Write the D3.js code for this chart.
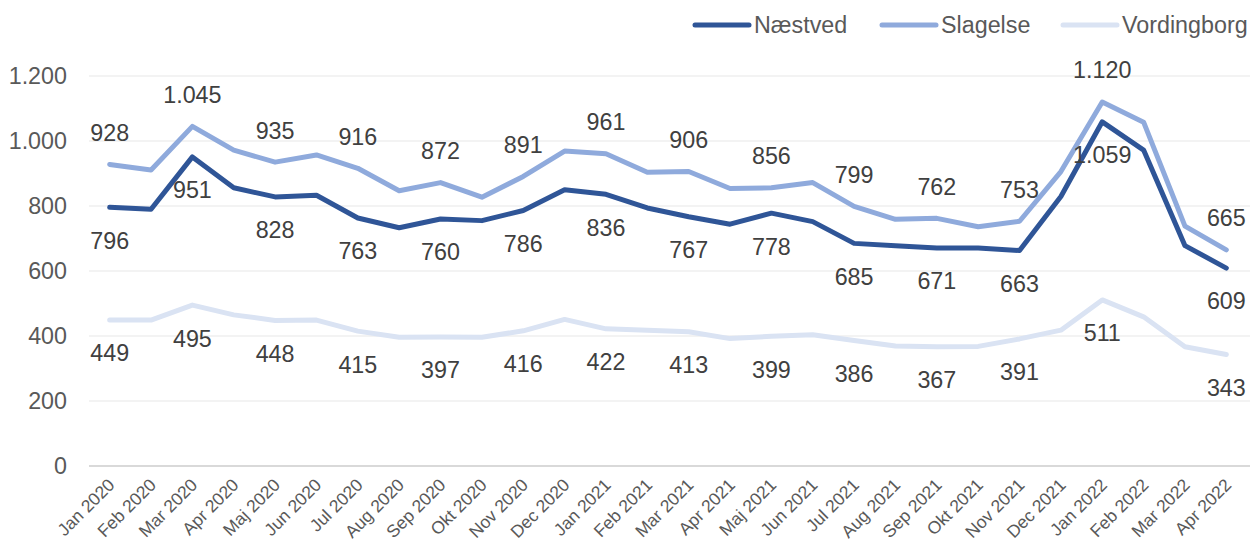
<!DOCTYPE html>
<html><head><meta charset="utf-8">
<script src="https://cdn.jsdelivr.net/npm/d3@7"></script>
<style>
html,body{margin:0;padding:0;background:#fff;}
text{font-family:"Liberation Sans",Arial,sans-serif;}
</style></head>
<body><svg id="chart" width="1253" height="544"></svg>
<script>
const categories = ["Jan 2020","Feb 2020","Mar 2020","Apr 2020","Maj 2020","Jun 2020","Jul 2020","Aug 2020","Sep 2020","Okt 2020","Nov 2020","Dec 2020",
  "Jan 2021","Feb 2021","Mar 2021","Apr 2021","Maj 2021","Jun 2021","Jul 2021","Aug 2021","Sep 2021","Okt 2021","Nov 2021","Dec 2021",
  "Jan 2022","Feb 2022","Mar 2022","Apr 2022"];
const naestved = [796,790,951,856,828,833,763,733,760,755,786,850,836,794,767,744,778,752,685,678,671,671,663,829,1059,972,678,609];
const slagelse = [928,911,1045,972,935,957,916,847,872,827,891,969,961,904,906,854,856,872,799,759,762,736,753,906,1120,1058,738,665];
const vordingborg = [449,449,495,465,448,449,415,396,397,396,416,451,422,418,413,392,399,404,386,369,367,368,391,418,511,459,367,343];
const labelIndices = [0,2,4,6,8,10,12,14,16,18,20,22,24,27];
const yTicks = [0,200,400,600,800,1000,1200];
const seriesNames = ["Næstved","Slagelse","Vordingborg"];

const series = [
  {name: seriesNames[0], values: naestved, color: "#2F5597", labelPos: "below"},
  {name: seriesNames[1], values: slagelse, color: "#8FAADC", labelPos: "above"},
  {name: seriesNames[2], values: vordingborg, color: "#DAE3F3", labelPos: "below"}
];

const loc = d3.formatLocale({decimal: ",", thousands: ".", grouping: [3], currency: ["", ""]});
const fmt = loc.format(",d");
const FONT = '"Liberation Sans",Arial,sans-serif';

const svg = d3.select("#chart");
const x = d3.scaleBand().domain(categories).range([89, 1247]).padding(0);
const y = d3.scaleLinear().domain([0, 1200]).range([466, 76]);
const cx = d => x(d) + x.bandwidth() / 2;

// gridlines
svg.append("g").selectAll("line").data(yTicks.filter(t => t > 0)).join("line")
  .attr("x1", 89).attr("x2", 1250)
  .attr("y1", d => y(d)).attr("y2", d => y(d))
  .attr("stroke", "#EFEFEF").attr("stroke-width", 1.5);

// y axis labels
const yAxis = d3.axisLeft(y).tickValues(yTicks).tickFormat(fmt).tickSize(0).tickPadding(22);
const gy = svg.append("g").attr("transform", "translate(89,0)").call(yAxis);
gy.select(".domain").remove();
gy.selectAll("text").attr("font-size", "23.3px").attr("fill", "#595959").style("font-family", FONT);

// x axis
const xAxis = d3.axisBottom(x).tickSize(0).tickPadding(0);
const gx = svg.append("g").attr("transform", "translate(0,466)").call(xAxis);
gx.select(".domain").attr("d", "M89,0H1250").attr("stroke", "#D9D9D9").attr("stroke-width", 2);
gx.selectAll(".tick text")
  .attr("font-size", "17.5px").attr("fill", "#595959")
  .style("font-family", FONT)
  .attr("text-anchor", "end")
  .attr("dy", "0")
  .attr("y", 0)
  .attr("transform", "translate(6,20) rotate(-45)");

// lines
const line = d3.line().x((d, i) => cx(categories[i])).y(d => y(d)).curve(d3.curveLinear);
const drawOrder = [2, 1, 0];
drawOrder.forEach(k => {
  const s = series[k];
  svg.append("path").datum(s.values)
    .attr("fill", "none").attr("stroke", s.color).attr("stroke-width", 5)
    .attr("stroke-linejoin", "round").attr("stroke-linecap", "round")
    .attr("d", line);
});

// data labels
series.forEach(s => {
  svg.append("g").selectAll("text").data(labelIndices).join("text")
    .attr("x", i => cx(categories[i]))
    .attr("y", i => y(s.values[i]) + (s.labelPos === "above" ? -32 : 33))
    .attr("dy", "0.36em")
    .attr("text-anchor", "middle")
    .attr("font-size", "23.3px").attr("fill", "#404040")
    .text(i => fmt(s.values[i]));
});

// legend
const legendX = [695, 882, 1063];
series.forEach((s, k) => {
  const g = svg.append("g").attr("transform", `translate(${legendX[k]},25)`);
  g.append("line").attr("x1", 0).attr("x2", 54).attr("y1", 0).attr("y2", 0)
    .attr("stroke", s.color).attr("stroke-width", 5).attr("stroke-linecap", "round");
  g.append("text").attr("x", 59).attr("y", 0).attr("dy", "0.36em")
    .attr("font-size", "23.3px").attr("fill", "#595959").text(s.name);
});
</script></body></html>
